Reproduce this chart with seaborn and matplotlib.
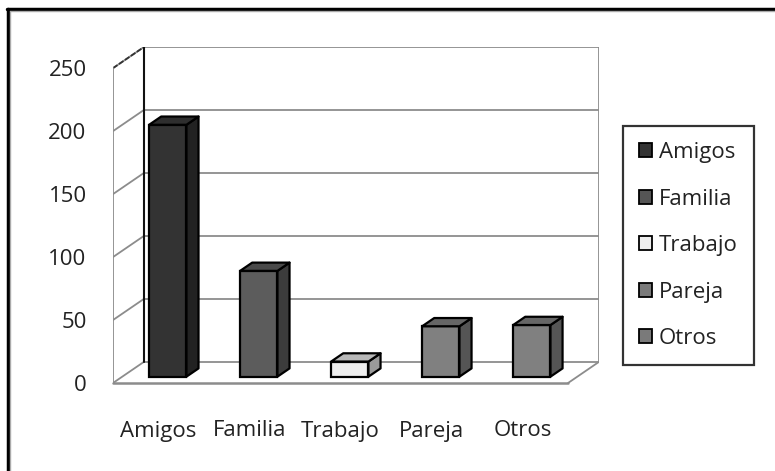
import numpy as np
import matplotlib
matplotlib.use("Agg")
import matplotlib.pyplot as plt
from matplotlib.patches import Polygon, Patch
from matplotlib.lines import Line2D
import seaborn as sns

categories = ["Amigos", "Familia", "Trabajo", "Pareja", "Otros"]
values = [200, 84, 12, 40, 41]
yticks = [0, 50, 100, 150, 200, 250]

front_colors = ["#333333", "#5c5c5c", "#eeeeee", "#808080", "#808080"]
side_colors = ["#222222", "#3c3c3c", "#9a9a9a", "#555555", "#555555"]
top_colors = ["#2e2e2e", "#4a4a4a", "#b8b8b8", "#666666", "#666666"]
legend_colors = ["#333333", "#555555", "#eeeeee", "#7a7a7a", "#7a7a7a"]

# depth of the fake 3D box, in data units
DX, DY = 0.34, 16.8
BAR_D0, BAR_D1 = 0.30, 0.69
GRID = "#8c8c8c"
FS = 16

sns.set_style("white")
plt.rcParams["font.family"] = ["Open Sans", "DejaVu Sans"]

fig = plt.figure(figsize=(7.75, 4.71), dpi=100)
ax = fig.add_axes([113 / 775, 1 - 383 / 471, (599 - 113) / 775, (383 - 47) / 471])

n = len(categories)
x0, x1 = -0.5, n - 0.5
top = yticks[-1]

# walls and floor
for v in yticks:
    ax.plot([x0, x0 + DX], [v, v + DY], color=GRID, lw=1.3, zorder=1)
    ax.plot([x0 + DX, x1 + DX], [v + DY, v + DY], color=GRID, lw=1.3, zorder=1)
ax.plot([x0, x0 + DX], [top, top + DY], color="#333333", lw=1.3, ls=(0, (3, 1)), zorder=1)
ax.plot([x0 + DX, x0 + DX], [DY, top + DY], color="#111111", lw=1.5, zorder=1)
ax.plot([x1 + DX, x1 + DX], [DY, top + DY], color=GRID, lw=1.3, zorder=1)
ax.plot([x0, x0], [0, top], color=GRID, lw=1.3, zorder=1)
ax.plot([x0, x1], [0, 0], color=GRID, lw=1.8, zorder=1, clip_on=False)
ax.plot([x1, x1 + DX], [0, DY], color=GRID, lw=1.3, zorder=1)

sns.barplot(x=categories, y=values, hue=categories, palette=front_colors,
            width=0.41, edgecolor="black", linewidth=1.6, legend=False,
            ax=ax, zorder=3)

d = BAR_D1 - BAR_D0
for i, p in enumerate(ax.patches):
    p.set_x(p.get_x() + BAR_D0 * DX)
    p.set_y(BAR_D0 * DY)
    bx, by, w, h = p.get_x(), p.get_y(), p.get_width(), p.get_height()
    side = Polygon([(bx + w, by), (bx + w + d * DX, by + d * DY),
                    (bx + w + d * DX, by + h + d * DY), (bx + w, by + h)],
                   closed=True, facecolor=side_colors[i], edgecolor="black",
                   lw=1.6, zorder=3, joinstyle="round")
    lid = Polygon([(bx, by + h), (bx + w, by + h),
                   (bx + w + d * DX, by + h + d * DY), (bx + d * DX, by + h + d * DY)],
                  closed=True, facecolor=top_colors[i], edgecolor="black",
                  lw=1.6, zorder=3, joinstyle="round")
    ax.add_patch(side)
    ax.add_patch(lid)

ax.set_xlim(x0, x1 + DX)
ax.set_ylim(0, top + DY)
for s in ax.spines.values():
    s.set_visible(False)

ax.set_yticks(yticks)
ax.set_yticklabels([str(v) for v in yticks])
ax.set_xticks(range(n))
ax.set_xticklabels(categories)
ax.set_xticks(np.arange(n + 1) - 0.5, minor=True)
ax.tick_params(axis="y", direction="out", length=8, width=1.3, color=GRID,
               labelsize=FS, labelcolor="#222222", pad=11)
ax.tick_params(axis="x", which="major", length=0, labelsize=FS,
               labelcolor="#222222", pad=27)
ax.tick_params(axis="x", which="minor", direction="out", length=7, width=1.3,
               color=GRID)
ax.set_xlabel("")
ax.set_ylabel("")

handles = [Patch(facecolor=c, edgecolor="black", lw=1.3) for c in legend_colors]
leg = fig.legend(handles, categories, loc="upper left",
                 bbox_to_anchor=(623 / 775, 1 - 126 / 471),
                 frameon=True, fancybox=False, fontsize=FS,
                 handlelength=0.6, handleheight=0.6, handletextpad=0.3,
                 labelspacing=1.15, borderpad=0.72, borderaxespad=0)
leg.get_frame().set_edgecolor("black")
leg.get_frame().set_linewidth(1.6)
for t in leg.get_texts():
    t.set_color("#222222")

# outer frame, only top and left edges are in view
fig.add_artist(Line2D([7 / 775, 1], [1 - 9 / 471, 1 - 9 / 471], color="black", lw=2.5,
                      transform=fig.transFigure))
fig.add_artist(Line2D([8 / 775, 8 / 775], [0, 1 - 9 / 471], color="black", lw=2.5,
                      transform=fig.transFigure))
fig.add_artist(Line2D([10 / 775, 1], [1 - 11 / 471, 1 - 11 / 471], color="#aaaaaa", lw=1,
                      transform=fig.transFigure))
fig.add_artist(Line2D([10 / 775, 10 / 775], [0, 1 - 11 / 471], color="#aaaaaa", lw=1,
                      transform=fig.transFigure))

fig.savefig("out.png", dpi=100)
